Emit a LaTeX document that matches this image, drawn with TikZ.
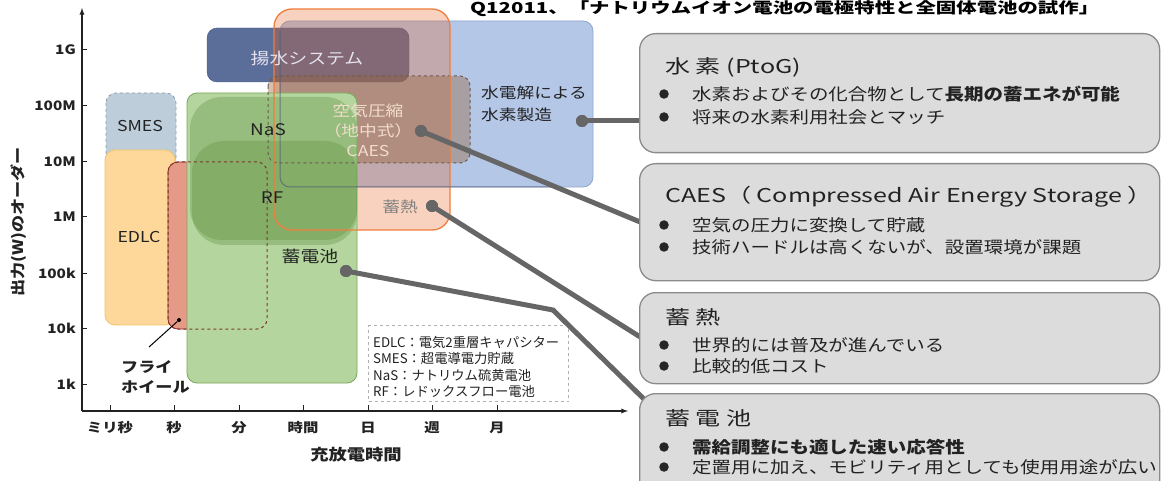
\documentclass[tikz,border=0pt]{standalone}
\usepackage{fontspec}
\setmainfont{Noto Sans CJK JP}
\newfontfamily\wide[FakeStretch=1.18]{Noto Sans CJK JP}
\newfontfamily\wider[FakeStretch=1.32]{Noto Sans CJK JP}
\newfontfamily\widest[FakeStretch=1.36]{Noto Sans CJK JP}
\usetikzlibrary{calc}
\definecolor{bluefill}{HTML}{B4C7E7}
\definecolor{blueedge}{HTML}{8EA5CF}
\definecolor{bluedark}{HTML}{4E5C74}
\definecolor{hydrofill}{HTML}{5B6E99}
\definecolor{hydroedge}{HTML}{44578A}
\definecolor{orangeC}{HTML}{E95E1A}
\definecolor{orangeedge}{HTML}{F07D3C}
\definecolor{caesfill}{HTML}{96643C}
\definecolor{caesedge}{HTML}{6E5A4E}
\definecolor{smesfill}{HTML}{BECDDA}
\definecolor{smesedge}{HTML}{8C9CAC}
\definecolor{edlcfill}{HTML}{FDD89A}
\definecolor{edlcedge}{HTML}{F2C46E}
\definecolor{redfill}{HTML}{E59A87}
\definecolor{rededge}{HTML}{9A2A2A}
\definecolor{reddash}{HTML}{7A3A2A}
\definecolor{greenfill}{HTML}{B4D59E}
\definecolor{greenedge}{HTML}{78A85C}
\definecolor{blobcol}{HTML}{5E8F3E}
\definecolor{conncol}{HTML}{666666}
\definecolor{boxfill}{HTML}{DCDCDC}
\definecolor{boxedge}{HTML}{8A8A8A}
\definecolor{axiscol}{HTML}{222222}
\definecolor{txt}{HTML}{222222}
\definecolor{caestxt}{HTML}{F2DCCB}
\definecolor{hydrotxt}{HTML}{E6E2F0}
\definecolor{heattxt}{HTML}{808080}
\definecolor{legedge}{HTML}{B0B0B0}
\tikzset{
  region/.style={rounded corners=10pt, line width=0.8pt},
  rbox/.style={draw=boxedge, fill=boxfill, line width=1.3pt, rounded corners=16pt, anchor=north west, minimum width=520pt, inner sep=0pt},
  conn/.style={draw=conncol, line width=5pt},
  dot/.style={circle, fill=conncol, inner sep=0pt, minimum size=12pt},
  ticklab/.style={font=\wide\bfseries\fontsize{13}{15}\selectfont, text=axiscol, anchor=east, inner sep=0pt},
  xlab/.style={font=\wide\bfseries\fontsize{13}{15}\selectfont, text=axiscol, inner sep=0pt},
  chartlab/.style={font=\wide\fontsize{15}{17}\selectfont, text=txt, inner sep=0pt},
  rtitle/.style={font=\wider\fontsize{19}{22}\selectfont, text=txt, anchor=west, inner sep=0pt},
  rbul/.style={font=\wide\fontsize{16.5}{19}\selectfont, text=txt, anchor=west, inner sep=0pt},
  bulmark/.style={circle, fill=black!85, inner sep=0pt, minimum size=9.5pt},
  legtxt/.style={font=\fontsize{13.3}{15}\selectfont, text=txt, anchor=west, inner sep=0pt},
}
\begin{document}
\begin{tikzpicture}[x=1pt,y=-1pt]
\useasboundingbox (0,0) rectangle (1162,481);
\clip (0,0) rectangle (1162,481);
% ---- chart regions ----
\filldraw[region, fill=bluefill, draw=blueedge] (280,21) rectangle (593,187);
\filldraw[rounded corners=10pt, draw=hydroedge, fill=hydrofill] (207,28) rectangle (409,82);
\fill[rounded corners=18pt, fill=orangeC, fill opacity=0.28] (274,9) rectangle (450,230);
\fill[rounded corners=10pt, fill=caesfill, fill opacity=0.4] (268,76) rectangle (470,163);
\filldraw[region, fill=smesfill, draw=smesedge, dashed] (106,93) rectangle (176,175);
\filldraw[region, fill=edlcfill, draw=edlcedge] (105,150) rectangle (175,325);
\filldraw[region, fill=redfill, draw=rededge] (168,162) rectangle (267,329);
\filldraw[region, fill=greenfill, draw=greenedge] (187,93) rectangle (357,383);
\fill[rounded corners=32pt, fill=blobcol, fill opacity=0.33] (190,97) rectangle (357,240);
\fill[rounded corners=32pt, fill=blobcol, fill opacity=0.33] (192,141) rectangle (357,245);
\draw[rounded corners=10pt, draw=reddash, dashed, line width=1pt] (168,162) rectangle (267,329);
\draw[rounded corners=10pt, draw=caesedge, dashed, line width=1pt] (268,76) rectangle (470,163);
\draw[rounded corners=18pt, draw=orangeedge, line width=1.3pt] (274,9) rectangle (450,230);
\draw[rounded corners=10pt, draw=bluedark, draw opacity=0.7, line width=1pt] (280,31) -- (280,187) -- (560,187);
% ---- axes ----
\draw[axiscol, line width=1.3pt, -latex] (82,411) -- (82,8);
\draw[axiscol, line width=1.3pt, -latex] (82,411) -- (628,411);
\foreach \yy/\lab in {50/1G,106/100M,162/10M,217/1M,273/100k,328/10k,384/1k}{
  \draw[axiscol, line width=1pt] (82,\yy) -- (87,\yy);
  \node[ticklab] at (76,\yy) {\lab};
}
\foreach \xx/\lab in {110/ミリ秒,174/秒,239/分,303/時間,368/日,432/週,497/月}{
  \draw[axiscol, line width=1pt] (\xx,405) -- (\xx,411);
  \node[xlab] at (\xx,428) {\lab};
}
\node[font=\wide\bfseries\fontsize{15.5}{18}\selectfont, text=axiscol] (xtitle) at (356,455) {充放電時間};
\node[font=\wide\bfseries\fontsize{14.5}{17}\selectfont, text=axiscol, rotate=90] (ytitle) at (19,222) {出力(W)のオーダー};
% ---- chart labels ----
\node[chartlab] (smes) at (140,126) {SMES};
\node[chartlab] (edlc) at (139,237) {EDLC};
\node[chartlab, font=\wide\fontsize{16}{18}\selectfont] (nas) at (268,130) {NaS};
\node[chartlab, font=\wide\fontsize{16}{18}\selectfont] (rf) at (272,198) {RF};
\node[chartlab, font=\wide\fontsize{16}{18}\selectfont] (batt) at (310,256) {蓄電池};
\node[chartlab, text=hydrotxt, font=\wide\fontsize{16}{18}\selectfont] (hydro) at (307,58) {揚水システム};
\node[chartlab, text=caestxt, align=center, font=\wide\fontsize{15}{20}\selectfont] (caes) at (368,130) {空気圧縮\\（地中式）\\CAES};
\node[chartlab, text=heattxt] (heat) at (400,207) {蓄熱};
\node[chartlab, align=left, font=\wide\fontsize{15}{22}\selectfont] (h2) at (534,104) {水電解による\\水素製造};
\node[chartlab, anchor=west, align=left, font=\wide\bfseries\fontsize{14.5}{20}\selectfont] (fly) at (121,377) {フライ\\ホイール};
\coordinate (flyp) at (149,347);
\node[circle, fill=black, inner sep=0pt, minimum size=4pt] (flyd) at (179,320) {};
\draw[black, line width=1pt] (flyd) -- (flyp);
% ---- legend ----
\node[draw=legedge, dashed, line width=1pt, anchor=north west, minimum width=200pt, minimum height=76pt, inner sep=0pt] (leg) at (368,325) {};
\node[legtxt] (l1) at (373,342) {EDLC：電気2重層キャパシター};
\node[legtxt] (l2) at (373,358) {SMES：超電導電力貯蔵};
\node[legtxt] (l3) at (373,375) {NaS：ナトリウム硫黄電池};
\node[legtxt] (l4) at (373,391) {RF：レドックスフロー電池};
% ---- connectors ----
\node[dot] (dH) at (582,121) {};
\node[dot] (dC) at (421,131) {};
\node[dot] (dT) at (432,206) {};
\node[dot] (dB) at (346,271) {};
\coordinate (e1) at (645,121);
\coordinate (e2) at (645,224);
\coordinate (e3) at (645,340);
\coordinate (bend) at (553,310);
\coordinate (e4) at (648,403);
\draw[conn] (dH.center) -- (e1);
\draw[conn] (dC.center) -- (e2);
\draw[conn] (dT.center) -- (e3);
\draw[conn] (dB.center) -- (bend) -- (e4);
\node[dot] at (dH) {};
\node[dot] at (dC) {};
\node[dot] at (dT) {};
\node[dot] at (dB) {};
% ---- right boxes ----
\node[rbox, minimum height=119pt] (b1) at (639,33) {};
\node[rbox, minimum height=117pt] (b2) at (639,163) {};
\node[rbox, minimum height=91pt] (b3) at (639,292) {};
\node[rbox, minimum height=110pt] (b4) at (639,393) {};
\node[rtitle] (t1) at (665,67) {水 素 (PtoG)};
\node[bulmark] (m11) at (664,94) {};
\node[rbul] (s11) at (692,94) {水素およびその化合物として\textbf{長期の蓄エネが可能}};
\node[bulmark] (m12) at (664,117) {};
\node[rbul] (s12) at (692,117) {将来の水素利用社会とマッチ};
\node[rtitle] (t2) at (665,197) {CAES（ Compressed Air Energy Storage ）};
\node[bulmark] (m21) at (664,225) {};
\node[rbul] (s21) at (692,225) {空気の圧力に変換して貯蔵};
\node[bulmark] (m22) at (664,247) {};
\node[rbul] (s22) at (692,247) {技術ハードルは高くないが、設置環境が課題};
\node[rtitle] (t3) at (665,317) {蓄 熱};
\node[bulmark] (m31) at (664,345) {};
\node[rbul] (s31) at (692,345) {世界的には普及が進んでいる};
\node[bulmark] (m32) at (664,366) {};
\node[rbul] (s32) at (692,366) {比較的低コスト};
\node[rtitle] (t4) at (665,418) {蓄 電 池};
\node[bulmark] (m41) at (664,447) {};
\node[rbul] (s41) at (692,447) {\textbf{需給調整にも適した速い応答性}};
\node[bulmark] (m42) at (664,467) {};
\node[rbul] (s42) at (692,467) {定置用に加え、モビリティ用としても使用用途が広い};
% ---- title ----
\node[font=\widest\bfseries\fontsize{15}{17}\selectfont, text=black, anchor=west, inner sep=0pt] (title) at (470,9) {Q12011、「ナトリウムイオン電池の電極特性と全固体電池の試作」};
\end{tikzpicture}
\end{document}
